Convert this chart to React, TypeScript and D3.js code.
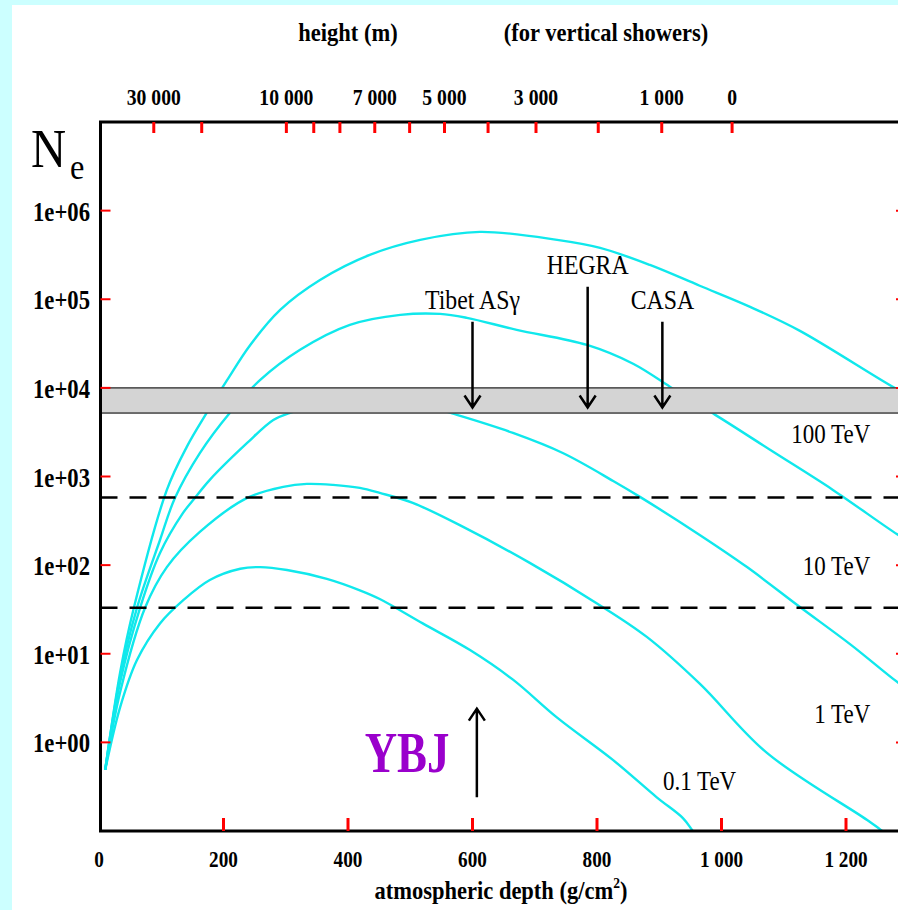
import React from "react";
import * as d3 from "d3";

const W = 898;
const H = 910;

// shower size curves: [atmospheric depth (g/cm2), Ne]
const curve1000TeV = [
  [10, 0.49], [34, 6.2], [56, 33], [109, 706], [141, 2160], [173, 5220], [206, 12300],
  [243, 30500], [291, 75900], [355, 165000], [435, 317000], [516, 468000], [612, 576000],
  [736, 468000], [805, 380000], [885, 244000], [965, 142000], [1046, 82000], [1126, 44000],
  [1284, 9490], [1300, 8500],
];
const curve100TeV = [
  [10, 0.49], [34, 5.5], [61, 33], [98, 192], [122, 573], [162, 1840], [210, 5220],
  [259, 12300], [323, 26900], [403, 51400], [484, 66700], [548, 68400], [591, 61700],
  [671, 45200], [784, 30500], [858, 18700], [917, 10300], [949, 7330], [990, 4960],
  [1083, 1900], [1179, 706], [1284, 219], [1300, 190],
];
const curve10TeV = [
  [10, 0.49], [34, 4.8], [66, 33], [98, 137], [135, 388], [154, 573], [178, 917],
  [238, 2390], [280, 4350], [307, 5220], [371, 6950], [435, 7710], [500, 6950],
  [575, 4950], [665, 3100], [745, 1840], [826, 891], [869, 589], [965, 219], [1041, 95],
  [1126, 33.7], [1208, 12.6], [1284, 4.7], [1300, 4],
];
const curve1TeV = [
  [10, 0.49], [34, 3.7], [74, 33], [109, 95], [162, 237], [238, 573], [296, 764],
  [334, 825], [376, 804], [419, 743], [451, 653], [504, 504], [585, 270], [692, 106],
  [800, 37], [880, 15.5], [965, 4.6], [1073, 0.76], [1234, 0.133], [1258, 0.1], [1270, 0.08],
];
const curve01TeV = [
  [10, 0.49], [34, 2.5], [61, 8.5], [98, 22], [135, 40], [178, 68], [227, 91], [259, 95],
  [302, 88], [366, 70], [419, 52], [451, 41.5], [520, 22], [596, 11], [665, 5.1], [736, 1.9],
  [826, 0.63], [896, 0.24], [938, 0.14], [954, 0.1], [965, 0.08],
];
const curves = [curve1000TeV, curve100TeV, curve10TeV, curve1TeV, curve01TeV];

const depthTicks = [0, 200, 400, 600, 800, 1000, 1200];
const neExponents = [0, 1, 2, 3, 4, 5, 6];
const heightTicks = [30000, 20000, 10000, 9000, 8000, 7000, 6000, 5000, 4000, 3000, 2000, 1000, 0];
const heightTickDepth = [88, 165, 301, 345, 387, 443, 499, 555, 625, 702, 802, 904, 1017];
const heightLabelled = [30000, 10000, 7000, 5000, 3000, 1000, 0];

const bandNe = [5200, 10000];
const thresholdNe = [580, 33];

const detectors = ["Tibet ASγ", "HEGRA", "CASA"];
const detectorDepth = [600, 785, 905];
const detectorTopNe = [55600, 138000, 55600];
const detectorTipNe = 6000;

const energyLabels = ["100 TeV", "10 TeV", "1 TeV", "0.1 TeV"];
const energyLabelDepth = [1239, 1239, 1239, 906];
const energyLabelNe = [2390, 77, 1.66, 0.29];

const ybjDepth = 607;
const ybjNe = [0.24, 2.4];

const serif = "'Liberation Serif', 'Times New Roman', serif";
const fmt = d3.formatLocale({ decimal: ".", thousands: " ", grouping: [3], currency: ["", ""] }).format(",");

function Txt({ x, y, size, sx = 0.86, anchor = "middle", weight = 700, fill = "#000", children }: any) {
  return (
    <text
      transform={`translate(${x},${y}) scale(${sx},1)`}
      fontSize={size}
      fontFamily={serif}
      fontWeight={weight}
      textAnchor={anchor}
      fill={fill}
    >
      {children}
    </text>
  );
}

export default function App() {
  const x = d3.scaleLinear().domain([0, 1300]).range([99, 908.25]);
  const y = d3.scaleLog().domain([0.1, 1e7]).range([831, 122]);
  const top = y.range()[1];
  const bottom = y.range()[0];
  const left = x(0) + 1.5;
  const right = x(1300) - 2;

  const line = d3
    .line<number[]>()
    .x((d) => x(d[0]))
    .y((d) => y(d[1]))
    .curve(d3.curveCatmullRom.alpha(0.5));

  const arrowDown = (ax: number, y0: number, y1: number) =>
    `M${ax},${y0}V${y1}M${ax - 8},${y1 - 12}L${ax},${y1}L${ax + 8},${y1 - 12}`;
  const arrowUp = (ax: number, y0: number, y1: number) =>
    `M${ax},${y0}V${y1}M${ax - 8},${y1 + 12}L${ax},${y1}L${ax + 8},${y1 + 12}`;

  return (
    <svg width={W} height={H} style={{ position: "absolute", left: 0, top: 0, display: "block" }}>
      <defs>
        <clipPath id="plot">
          <rect x={left} y={top} width={right - left} height={bottom - top} />
        </clipPath>
      </defs>
      <rect width={W} height={H} fill="#ccffff" />
      <rect x={12} y={5} width={W} height={H} fill="#fff" />

      {/* shower curves */}
      <g clipPath="url(#plot)">
        {curves.map((c, i) => (
          <path key={i} d={line(c) || ""} fill="none" stroke="#10e8ec" strokeWidth={2.4} />
        ))}
      </g>

      {/* Ne band */}
      <rect
        x={left}
        y={y(bandNe[1])}
        width={W}
        height={y(bandNe[0]) - y(bandNe[1])}
        fill="#d4d4d4"
        stroke="#444"
        strokeWidth={1.5}
      />

      {/* threshold lines */}
      {thresholdNe.map((n, i) => (
        <line key={i} x1={left} x2={right} y1={y(n)} y2={y(n)} stroke="#000" strokeWidth={2.5} strokeDasharray="17 12" />
      ))}

      {/* frame */}
      <path d={`M${right},${top}H${left}V${bottom}H${right}`} fill="none" stroke="#000" strokeWidth={3} />

      {/* bottom ticks */}
      {depthTicks.filter((d) => d > 0).map((d) => (
        <line key={d} x1={x(d)} x2={x(d)} y1={bottom} y2={bottom - 13} stroke="#f00" strokeWidth={3} />
      ))}
      {depthTicks.map((d) => (
        <Txt key={d} x={x(d)} y={867} size={24} sx={0.8}>{fmt(d)}</Txt>
      ))}

      {/* top ticks: height */}
      {heightTicks.map((h, i) => (
        <line key={h} x1={x(heightTickDepth[i])} x2={x(heightTickDepth[i])} y1={top} y2={top + 11} stroke="#f00" strokeWidth={3} />
      ))}
      {heightLabelled.map((h) => (
        <Txt key={h} x={x(heightTickDepth[heightTicks.indexOf(h)])} y={105} size={24} sx={0.82}>{fmt(h)}</Txt>
      ))}

      {/* left / right ticks */}
      {neExponents.map((e) => (
        <g key={e}>
          <line x1={left} x2={left + 10} y1={y(10 ** e)} y2={y(10 ** e)} stroke="#f00" strokeWidth={2} />
          <line x1={896} x2={910} y1={y(10 ** e)} y2={y(10 ** e)} stroke="#f00" strokeWidth={2} />
          <Txt x={90} y={y(10 ** e) + 10} size={27} sx={0.84} anchor="end">{`1e+0${e}`}</Txt>
        </g>
      ))}

      {/* axis titles */}
      <Txt x={348} y={41} size={25} sx={0.9}>height (m)</Txt>
      <Txt x={606} y={41} size={25} sx={0.9}>(for vertical showers)</Txt>
      <Txt x={501} y={899} size={25} sx={0.9}>
        atmospheric depth (g/cm<tspan fontSize={15} dy={-11}>2</tspan><tspan dy={11}>)</tspan>
      </Txt>
      <Txt x={31} y={167} size={54} sx={0.9} anchor="start" weight={400}>N</Txt>
      <Txt x={70} y={179} size={36} sx={0.9} anchor="start" weight={400}>e</Txt>

      {/* detectors */}
      {detectors.map((name, i) => {
        const ax = x(detectorDepth[i]);
        const y0 = y(detectorTopNe[i]);
        return (
          <g key={name}>
            <path d={arrowDown(ax, y0, y(detectorTipNe))} fill="none" stroke="#000" strokeWidth={2.5} />
            <Txt x={ax} y={y0 - 13} size={28} sx={0.85} weight={400}>{name}</Txt>
          </g>
        );
      })}

      {/* energy labels */}
      {energyLabels.map((t, i) => (
        <Txt
          key={t}
          x={x(energyLabelDepth[i])}
          y={y(energyLabelNe[i])}
          size={28}
          sx={0.82}
          weight={400}
          anchor={i === 3 ? "start" : "end"}
        >
          {t}
        </Txt>
      ))}

      {/* YBJ */}
      <path d={arrowUp(x(ybjDepth), y(ybjNe[0]), y(ybjNe[1]))} fill="none" stroke="#000" strokeWidth={2.5} />
      <Txt x={407} y={772} size={56} sx={0.8} fill="#9a00cc">YBJ</Txt>
    </svg>
  );
}
